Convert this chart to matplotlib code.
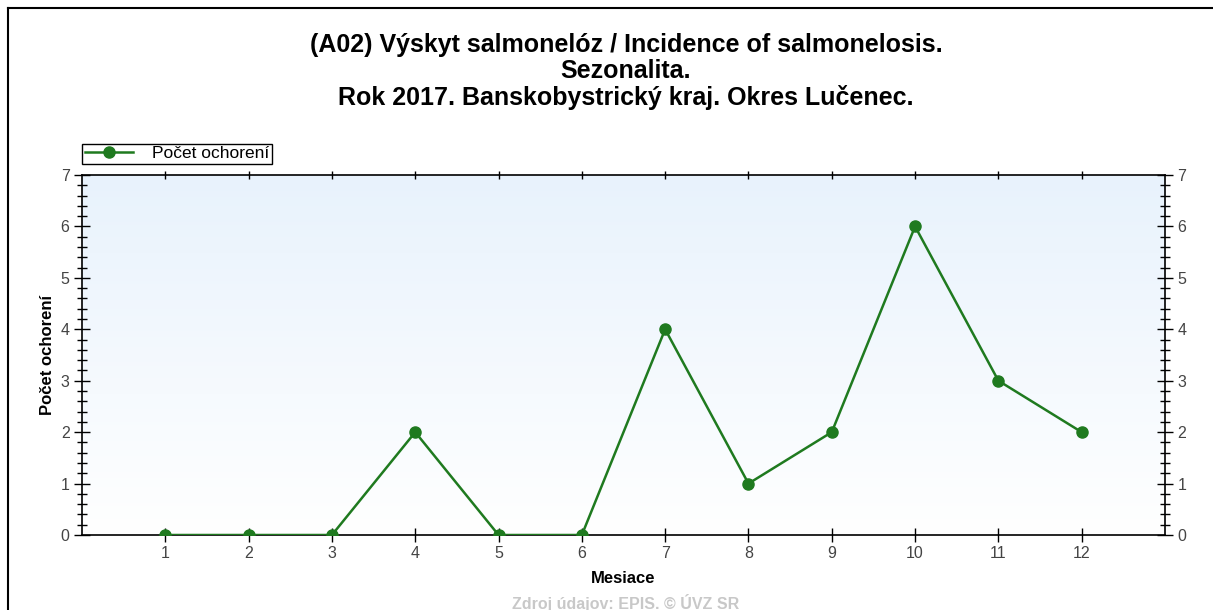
import numpy as np
import matplotlib.pyplot as plt
from matplotlib.ticker import MultipleLocator
from matplotlib.lines import Line2D

plt.rcParams['font.family'] = ['Liberation Sans', 'DejaVu Sans']

# Data
months = [1, 2, 3, 4, 5, 6, 7, 8, 9, 10, 11, 12]
cases = [0, 0, 0, 2, 0, 0, 4, 1, 2, 6, 3, 2]
series_label = "Počet ochorení"
title_lines = ["(A02) Výskyt salmonelóz / Incidence of salmonelosis.",
               "Sezonalita.",
               "Rok 2017. Banskobystrický kraj. Okres Lučenec."]

green = "#1f7a1f"

fig = plt.figure(figsize=(12.13, 6.10), dpi=100)
ax = fig.add_axes([82 / 1213, 1 - 535 / 610, (1165 - 82) / 1213, (535 - 175) / 610])

# gradient background
grad = np.linspace(1, 0, 256).reshape(-1, 1)
top_col = np.array([0.91, 0.95, 0.99])
bot_col = np.array([1.0, 1.0, 1.0])
img = grad[..., None] * top_col + (1 - grad[..., None]) * bot_col
ax.imshow(img, extent=[0, 13, 0, 7], aspect='auto', zorder=0)

ax.plot(months, cases, color=green, lw=1.8, marker='o', markersize=8, zorder=3)

ax.set_xlim(0, 13)
ax.set_ylim(0, 7)
ax.set_xticks(months)
ax.yaxis.set_major_locator(MultipleLocator(1))
ax.yaxis.set_minor_locator(MultipleLocator(0.2))

ax.tick_params(axis='x', direction='inout', length=10, width=1, labelsize=11.5, pad=3, top=True,
               labelcolor='#444444')
ax.tick_params(axis='y', which='major', direction='inout', length=12, width=1, labelsize=11.5,
               right=True, labelright=True, pad=3, labelcolor='#444444')
ax.tick_params(axis='y', which='minor', direction='inout', length=7, width=1, right=True)
for t in ax.xaxis.get_major_ticks():
    t.tick2line.set_markersize(6)
for sp in ['left', 'right', 'bottom', 'top']:
    ax.spines[sp].set_linewidth(1.2)

ax.set_xlabel("Mesiace", fontsize=12, fontweight='bold', labelpad=7)
ax.set_ylabel(series_label, fontsize=12, fontweight='bold', labelpad=4)

# title
for i, line in enumerate(title_lines):
    fig.text(0.516, 1 - (45 + i * 26) / 610, line, ha='center', va='center',
             fontsize=18, fontweight='bold')

# legend
handle = Line2D([0], [0], color=green, lw=1.8, marker='o', markersize=8)
leg = fig.legend([handle], [series_label], loc='lower left',
                 bbox_to_anchor=(82 / 1213, 1 - 164 / 610), fontsize=12.5,
                 frameon=True, fancybox=False, edgecolor='black', framealpha=1,
                 borderpad=0.15, handlelength=2.8, borderaxespad=0, handletextpad=1.1)
leg.get_frame().set_linewidth(1)

# source
fig.text(0.516, 1 - 603 / 610, "Zdroj údajov: EPIS. © ÚVZ SR", ha='center', va='center',
         fontsize=11.5, fontweight='bold', color='#c8c8c8')

# outer frame (top and left)
fig.add_artist(Line2D([8 / 1213, 8 / 1213], [0, 1 - 8 / 610], color='black', lw=1.5))
fig.add_artist(Line2D([8 / 1213, 1], [1 - 8 / 610, 1 - 8 / 610], color='black', lw=1.5))

fig.savefig("out.png", dpi=100)
